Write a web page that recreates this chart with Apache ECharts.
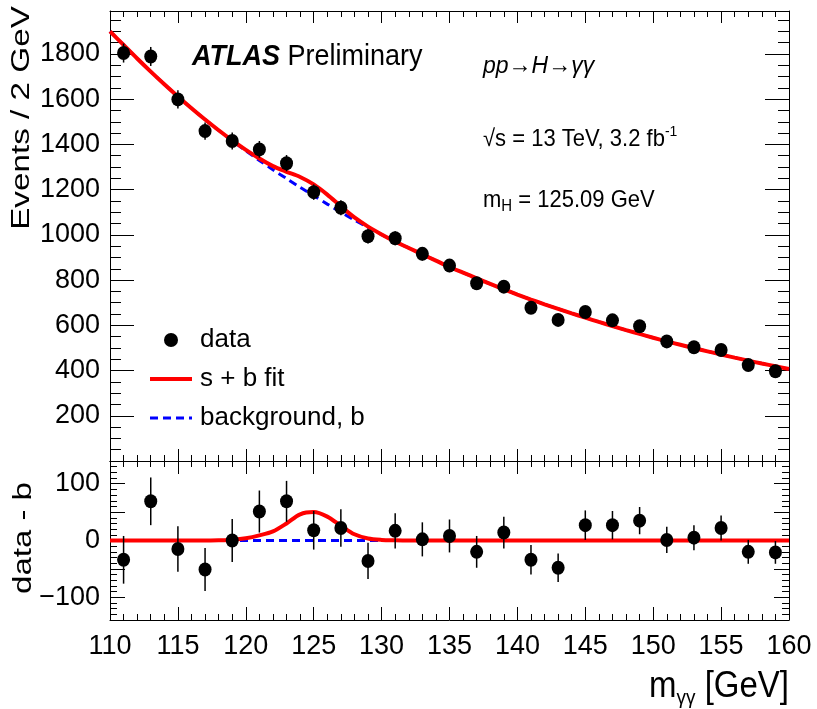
<!DOCTYPE html>
<html><head><meta charset="utf-8">
<script src="https://cdn.jsdelivr.net/npm/echarts@6/dist/echarts.min.js"></script>
<style>html,body{margin:0;padding:0;background:#fff}#c{width:817px;height:709px}</style>
</head><body><div id="c"></div>
<script>
// ---------------- data ----------------
const binCenters = [111,113,115,117,119,121,123,125,127,129,131,133,135,137,139,141,143,145,147,149,151,153,155,157,159];
const counts     = [1804,1789,1599,1459,1415,1378,1317,1189,1120,994,985,916,864,786,771,678,624,659,622,596,529,503,491,424,397];
const countErr   = [42,42,40,38,38,37,36,34,33,32,31,30,29,28,28,26,25,26,25,24,23,22,22,21,20];
const residuals  = [-34,69,-15,-51,0,51,69,18,22,-36,17,2,8,-20,14,-34,-48,27,27,35,1,5,22,-20,-21];
const residErr   = [42,42,40,38,38,37,36,34,33,32,31,30,29,28,28,26,25,26,25,24,23,22,22,21,20];

const curveX = [110,111,112,113,114,115,116,117,118,119,120,121,122,123,124,125,126,127,128,129,130,131,132,133,134,135,136,137,138,139,140,141,142,143,144,145,146,147,148,149,150,151,152,153,154,155,156,157,158,159,160];
const background = [1900,1840,1780,1722,1666,1612,1560,1510,1462,1416,1372,1329,1288,1249,1210,1173,1136,1100,1066,1033,1001,970,942,914,886,858,833,808,783,759,736,714,693,673,653,634,615,597,579,562,545,529,514,499,485,471,457,444,431,419,407];
const signal = [0,0,0,0,0,0,0,0,0.5,1.5,4,9,16,30,46,50,42,26,11,3.5,1,0.3,0,0,0,0,0,0,0,0,0,0,0,0,0,0,0,0,0,0,0,0,0,0,0,0,0,0,0,0,0];

const yTopLabels = [200,400,600,800,1000,1200,1400,1600,1800];
const yBottomLabels = [-100,0,100];

// ---------------- chart ----------------
const FF = '"Liberation Sans", Arial, Helvetica, sans-serif';
const TS = 27;
const chart = echarts.init(document.getElementById('c'), null, {renderer: 'canvas'});

function xAx(grid, pos, labels, major, minor) {
  return {
    type: 'value', gridIndex: grid, position: pos, min: 110, max: 160, interval: 5,
    axisLine: {show: true, onZero: false, lineStyle: {color: '#000', width: 1}},
    axisTick: {show: true, inside: true, length: major, lineStyle: {color: '#000', width: 1}},
    minorTick: {show: true, splitNumber: 5, length: minor, lineStyle: {color: '#000', width: 1}},
    splitLine: {show: false}, minorSplitLine: {show: false},
    axisLabel: {show: labels, margin: 13, fontSize: TS, fontFamily: FF, color: '#000'}
  };
}
function yTop(pos, labels) {
  return {
    type: 'value', gridIndex: 0, position: pos, min: 0, max: 1990, interval: 200,
    axisLine: {show: true, onZero: false, lineStyle: {color: '#000', width: 1}},
    axisTick: {show: true, inside: true, length: 24, lineStyle: {color: '#000', width: 1}},
    minorTick: {show: true, splitNumber: 4, length: 11, lineStyle: {color: '#000', width: 1}},
    splitLine: {show: false}, minorSplitLine: {show: false},
    axisLabel: {show: labels, margin: 10, fontSize: TS, fontFamily: FF, color: '#000',
      formatter: v => yTopLabels.indexOf(v) >= 0 ? String(v) : ''}
  };
}
function yBotShort(pos, labels) {
  return {
    type: 'value', gridIndex: 1, position: pos, min: -140, max: 140, interval: 10,
    axisLine: {show: true, onZero: false, lineStyle: {color: '#000', width: 1}},
    axisTick: {show: true, inside: true, length: 7, lineStyle: {color: '#000', width: 1}},
    splitLine: {show: false},
    axisLabel: {show: labels, margin: 10, fontSize: TS, fontFamily: FF, color: '#000',
      formatter: v => yBottomLabels.indexOf(v) >= 0 ? String(v).replace('-', '\u2212') : ''}
  };
}
function yBotLong(pos) {
  return {
    type: 'value', gridIndex: 1, position: pos, min: -140, max: 140, interval: 10,
    axisLine: {show: false, onZero: false},
    axisTick: {show: true, inside: true, length: 15, customValues: [-100, -50, 0, 50, 100], lineStyle: {color: '#000', width: 1}},
    splitLine: {show: false},
    axisLabel: {show: false}
  };
}

const topData = binCenters.map((x, i) => [x, counts[i]]);
const topErr = binCenters.map((x, i) => [x, counts[i], countErr[i]]);
const botData = binCenters.map((x, i) => [x, residuals[i]]);
const botErr = binCenters.map((x, i) => [x, residuals[i], residErr[i]]);
const bkgLine = curveX.map((x, i) => [x, background[i]]);
const sbLine = curveX.map((x, i) => [x, background[i] + signal[i]]);
const sigLine = curveX.map((x, i) => [x, signal[i]]);
const zeroLine = curveX.map((x, i) => [x, background[i] - background[i]]);

function errRender(params, api) {
  const x = api.value(0), y = api.value(1), e = api.value(2);
  const p1 = api.coord([x, y - e]), p2 = api.coord([x, y + e]);
  return {type: 'line', shape: {x1: p1[0], y1: p1[1], x2: p2[0], y2: p2[1]},
    style: {stroke: '#000', lineWidth: 1.5}};
}

const option = {
  animation: false,
  backgroundColor: '#fff',
  grid: [
    {left: 110, right: 28, top: 11, height: 450, outerBoundsMode: 'none'},
    {left: 110, right: 28, top: 461, height: 159, outerBoundsMode: 'none'}
  ],
  xAxis: [xAx(0, 'bottom', false, 12, 6), xAx(0, 'top', false, 12, 6), xAx(1, 'bottom', true, 13, 6), xAx(1, 'top', false, 13, 6)],
  yAxis: [yTop('left', true), yTop('right', false), yBotShort('left', true), yBotShort('right', false), yBotLong('left'), yBotLong('right')],
  legend: {
    orient: 'vertical', left: 143, top: 322, itemWidth: 42, itemHeight: 14, itemGap: 13,
    textStyle: {fontSize: 26, fontFamily: FF, color: '#000', padding: [0, 0, 0, 3]},
    data: [
      {name: 'data', icon: 'circle', itemStyle: {color: '#000', opacity: 1}},
      {name: 's + b fit', itemStyle: {opacity: 0}, lineStyle: {color: '#ff0000', width: 4, type: 'solid'}},
      {name: 'background, b', itemStyle: {opacity: 0}, lineStyle: {color: '#0000ff', width: 3, type: [8, 5]}}
    ],
    selectedMode: false
  },
  series: [
    {name: 'background, b', type: 'line', xAxisIndex: 0, yAxisIndex: 0, data: bkgLine, smooth: 0.3,
      showSymbol: false, symbol: 'none', lineStyle: {color: '#0000ff', width: 3, type: [8, 5]}, itemStyle: {color: '#0000ff'}, z: 1},
    {name: 's + b fit', type: 'line', xAxisIndex: 0, yAxisIndex: 0, data: sbLine, smooth: 0.3,
      showSymbol: false, symbol: 'none', lineStyle: {color: '#ff0000', width: 4}, itemStyle: {color: '#ff0000'}, z: 2},
    {name: 'dataErr', type: 'custom', xAxisIndex: 0, yAxisIndex: 0, data: topErr, renderItem: errRender, z: 3, silent: true},
    {name: 'data', type: 'scatter', xAxisIndex: 0, yAxisIndex: 0, data: topData, symbol: 'circle', symbolSize: [13, 14],
      itemStyle: {color: '#000', opacity: 1}, z: 4},
    {name: 'zero', type: 'line', xAxisIndex: 2, yAxisIndex: 2, data: zeroLine,
      showSymbol: false, symbol: 'none', lineStyle: {color: '#0000ff', width: 3, type: [8, 5]}, z: 1},
    {name: 'sig', type: 'line', xAxisIndex: 2, yAxisIndex: 2, data: sigLine, smooth: 0.3,
      showSymbol: false, symbol: 'none', lineStyle: {color: '#ff0000', width: 4}, z: 2},
    {name: 'resErr', type: 'custom', xAxisIndex: 2, yAxisIndex: 2, data: botErr, renderItem: errRender, z: 3, silent: true},
    {name: 'res', type: 'scatter', xAxisIndex: 2, yAxisIndex: 2, data: botData, symbol: 'circle', symbolSize: [13, 14],
      itemStyle: {color: '#000', opacity: 1}, z: 4}
  ],
  graphic: [
    {type: 'text', x: 192, y: 57, scaleY: 1.08, style: {
      text: '{a|ATLAS}{b| Preliminary}', textVerticalAlign: 'middle', textAlign: 'left',
      rich: {a: {font: 'italic bold 27px ' + FF, fill: '#000'}, b: {font: '27px ' + FF, fill: '#000'}}}},
    {type: 'text', x: 483, y: 66, scaleY: 1.08, style: {
      text: 'pp\u2192H\u2192\u03b3\u03b3', font: 'italic 23px ' + FF, fill: '#000', textVerticalAlign: 'middle'}},
    {type: 'text', x: 483, y: 139, scaleY: 1.08, style: {
      text: '{m|\u221as = 13 TeV, 3.2 fb}{s|-1}', textVerticalAlign: 'middle',
      rich: {m: {font: '22px ' + FF, fill: '#000', lineHeight: 28, verticalAlign: 'middle'},
             s: {font: '14px ' + FF, fill: '#000', lineHeight: 14, verticalAlign: 'top'}}}},
    {type: 'text', x: 483, y: 200, scaleY: 1.08, style: {
      text: '{m|m}{s|H}{m| = 125.09 GeV}', textVerticalAlign: 'middle',
      rich: {m: {font: '22px ' + FF, fill: '#000', lineHeight: 28, verticalAlign: 'middle'},
             s: {font: '15px ' + FF, fill: '#000', lineHeight: 15, verticalAlign: 'bottom'}}}},
    {type: 'text', x: 22, y: 118, rotation: Math.PI / 2, scaleX: 1.33, style: {
      text: 'Events / 2 GeV', font: '25px ' + FF, fill: '#000', textAlign: 'center', textVerticalAlign: 'middle'}},
    {type: 'text', x: 24, y: 538, rotation: Math.PI / 2, scaleX: 1.32, style: {
      text: 'data - b', font: '25px ' + FF, fill: '#000', textAlign: 'center', textVerticalAlign: 'middle'}},
    {type: 'text', x: 789, y: 687, scaleY: 1.1, style: {
      text: '{m|m}{s|\u03b3\u03b3}{m| [GeV]}', textAlign: 'right', textVerticalAlign: 'middle',
      rich: {m: {font: '33px ' + FF, fill: '#000', lineHeight: 40, verticalAlign: 'middle'},
             s: {font: '19px ' + FF, fill: '#000', lineHeight: 19, verticalAlign: 'bottom'}}}}
  ]
};
chart.setOption(option);
</script>
</body></html>
